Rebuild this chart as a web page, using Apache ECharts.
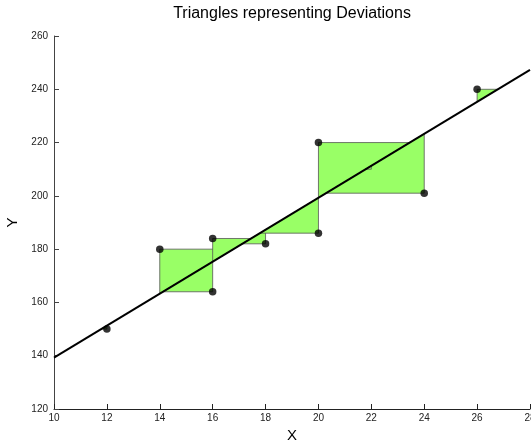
<!DOCTYPE html>
<html>
<head>
<meta charset="utf-8">
<script src="https://cdn.jsdelivr.net/npm/echarts@6/dist/echarts.min.js"></script>
<style>
  html, body { margin: 0; padding: 0; background: #ffffff; }
  #chart { width: 531px; height: 441px; }
</style>
</head>
<body>
<div id="chart"></div>
<script>
// Observed points (drawn as black dots)
const pointX = [12, 14, 16, 16, 18, 20, 20, 24, 26];
const pointY = [150, 180, 164, 184, 182, 220, 186, 201, 240];
// Point that only shows through its tiny deviation triangle
const faintX = [22];
const faintY = [210];
// Fitted line, given by its two end points
const fitX = [10, 28];
const fitY = [139.3, 247.3];
// Axis ranges and steps
const xRange = [10, 28, 2];
const yRange = [120, 260, 20];

const slope = (fitY[1] - fitY[0]) / (fitX[1] - fitX[0]);
const lineAt = x => fitY[0] + (x - fitX[0]) * slope;
const xAtLine = y => fitX[0] + (y - fitY[0]) / slope;

const triData = pointX.map((x, i) => [x, pointY[i]])
  .concat(faintX.map((x, i) => [x, faintY[i]]));
const dotData = pointX.map((x, i) => [x, pointY[i]]);

const font = '"Liberation Sans", Arial, Helvetica, sans-serif';
const chart = echarts.init(document.getElementById('chart'), null, { renderer: 'canvas' });

chart.setOption({
  animation: false,
  backgroundColor: '#ffffff',
  title: {
    text: 'Triangles representing Deviations',
    left: 287,
    textAlign: 'center',
    top: 1,
    textStyle: { fontFamily: font, fontSize: 16, fontWeight: 'normal', color: '#000' }
  },
  grid: { left: 54, right: 1, top: 36, bottom: 32, containLabel: false, outerBoundsMode: 'none' },
  xAxis: {
    type: 'value',
    min: xRange[0], max: xRange[1], interval: xRange[2],
    name: 'X',
    nameLocation: 'middle',
    nameGap: 15,
    nameTextStyle: { fontFamily: font, fontSize: 15, color: '#000' },
    axisLine: { show: true, onZero: false, lineStyle: { color: '#222', width: 1 } },
    axisTick: { show: true, inside: true, length: 5, lineStyle: { color: '#222' } },
    axisLabel: { fontFamily: font, fontSize: 10, color: '#222', margin: 4 },
    splitLine: { show: false }
  },
  yAxis: {
    type: 'value',
    min: yRange[0], max: yRange[1], interval: yRange[2],
    name: 'Y',
    nameLocation: 'middle',
    nameGap: 30,
    nameRotate: 90,
    nameTextStyle: { fontFamily: font, fontSize: 15, color: '#000' },
    axisLine: { show: true, onZero: false, lineStyle: { color: '#444', width: 1 } },
    axisTick: { show: true, inside: true, length: 5, lineStyle: { color: '#444' } },
    axisLabel: { fontFamily: font, fontSize: 10, color: '#222', margin: 6 },
    splitLine: { show: false }
  },
  series: [
    {
      // deviation triangle for each point: the point, its vertical drop to the
      // line, and its horizontal reach to the line
      type: 'custom',
      data: triData,
      z: 1,
      renderItem: (params, api) => {
        const x = api.value(0), y = api.value(1);
        const pts = [[x, y], [x, lineAt(x)], [xAtLine(y), y]].map(p => api.coord(p));
        return {
          type: 'polygon',
          shape: { points: pts },
          style: { fill: '#99ff66', stroke: '#555555', lineWidth: 0.8 }
        };
      }
    },
    {
      type: 'line',
      data: fitX.map((x, i) => [x, fitY[i]]),
      symbol: 'none',
      z: 2,
      lineStyle: { color: '#000', width: 2 }
    },
    {
      type: 'scatter',
      data: dotData,
      symbol: 'circle',
      symbolSize: 7.5,
      z: 3,
      itemStyle: { color: '#000' }
    }
  ]
});
</script>
</body>
</html>
